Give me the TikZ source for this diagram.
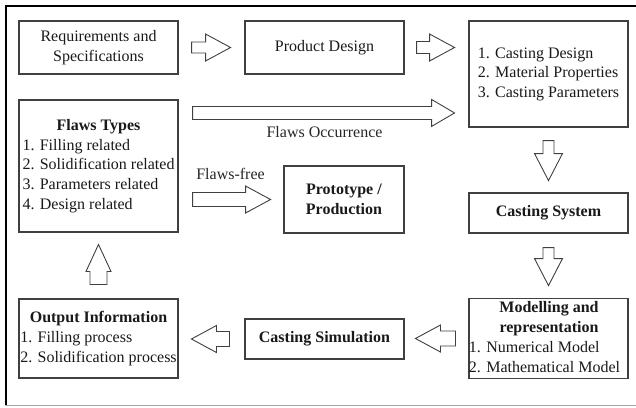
\documentclass[tikz,border=0pt]{standalone}
\usepackage{fontspec}
\setmainfont{Liberation Serif}
\usetikzlibrary{calc}
\newcommand\fs{\fontsize{16}{19.8}\selectfont}
\begin{document}
\begin{tikzpicture}[x=1pt,y=-1pt,
  box/.style={draw=black!75, line width=1.1pt, inner sep=0pt, font=\fs, text=black!90, align=center},
  arr/.style={draw=black!75, line width=0.9pt, fill=white, line join=miter},
  lbl/.style={font=\fs, text=black!85, inner sep=0pt},
  pics/barrow/.style n args={4}{code={%
    \draw[arr] (0,-#2) -- ({#1-#4},-#2) -- ({#1-#4},-#3) -- (#1,0) -- ({#1-#4},#3) -- ({#1-#4},#2) -- (0,#2) -- cycle;}}
]
\useasboundingbox (0,0) rectangle (636,407);
% frame
\draw[line width=2.5pt] (4.5,6.2) -- (636,6.2);
\draw[line width=2pt] (5.8,5) -- (5.8,406);
\draw[black!35, line width=1pt] (5,405.5) -- (636,405.5);

% boxes
\node[box, minimum width=159, minimum height=53] (req) at (98.5,47.5) {Requirements and\\Specifications};
\node[box, minimum width=159, minimum height=53] (prod) at (324.5,47.5) {Product Design};
\node[box, minimum width=159, minimum height=106] (cast) at (548.5,74)
  {\begin{tabular}{@{}l@{}}1. Casting Design\\2. Material Properties\\3. Casting Parameters\end{tabular}};
\node[box, minimum width=159, minimum height=132] (flaws) at (98.5,166)
  {\raisebox{-7pt}{\begin{tabular}{@{}l@{}}\multicolumn{1}{@{}c@{}}{\textbf{Flaws Types}}\\1. Filling related\\2. Solidification related\\3. Parameters related\\4. Design related\end{tabular}}};
\node[box, minimum width=120, minimum height=67] (proto) at (344,199.5) {\textbf{Prototype /}\\\textbf{Production}};
\node[box, minimum width=159, minimum height=40] (castsys) at (548.5,213) {\textbf{Casting System}};
\node[box, minimum width=159, minimum height=79] (model) at (548.5,338.5)
  {\hspace*{-8pt}\begin{tabular}{@{}l@{}}\multicolumn{1}{@{}c@{}}{\hspace{9pt}\textbf{Modelling and}}\\\multicolumn{1}{@{}c@{}}{\hspace{9pt}\textbf{representation}}\\1. Numerical Model\\2. Mathematical Model\end{tabular}};
\node[box, minimum width=159, minimum height=40] (castsim) at (324.5,339) {\textbf{Casting Simulation}};
\node[box, minimum width=159, minimum height=79] (output) at (98.5,338.5)
  {\begin{tabular}{@{}l@{}}\multicolumn{1}{@{}c@{}}{\textbf{Output Information}}\\1. Filling process\\2. Solidification process\end{tabular}};

% block arrows
\pic at ($(req.east)+(13,0)$) {barrow={39}{5.5}{13.5}{25}};
\pic at ($(prod.east)+(12,0)$) {barrow={38}{6}{13.5}{25}};
\coordinate (occ) at ($(flaws.north east)+(14,13.5)$);
\pic at (occ) {barrow={262}{6.5}{13.5}{23}};
\coordinate (free) at ($(flaws.east |- proto.west)+(14,0)$);
\pic at (free) {barrow={78}{7}{13.5}{25}};
\pic[rotate=-90] at ($(cast.south)+(0,13)$) {barrow={40}{5.5}{14}{27}};
\pic[rotate=-90] at ($(castsys.south)+(0,14)$) {barrow={38}{5.5}{14}{27}};
\pic[rotate=180] at ($(model.west)+(-13,0)$) {barrow={40}{7.5}{13.5}{25}};
\pic[rotate=180] at ($(castsim.west)+(-15,0)$) {barrow={38}{7.5}{13.5}{25}};
\pic[rotate=90] at ($(output.north)+(0,-14)$) {barrow={40}{8.5}{12.5}{27}};

% labels
\node[lbl] (occlbl) at ($(occ)+(132,19.5)$) {Flaws Occurrence};
\node[lbl] (freelbl) at ($(free)+(38,-26)$) {Flaws-free};
\end{tikzpicture}
\end{document}
